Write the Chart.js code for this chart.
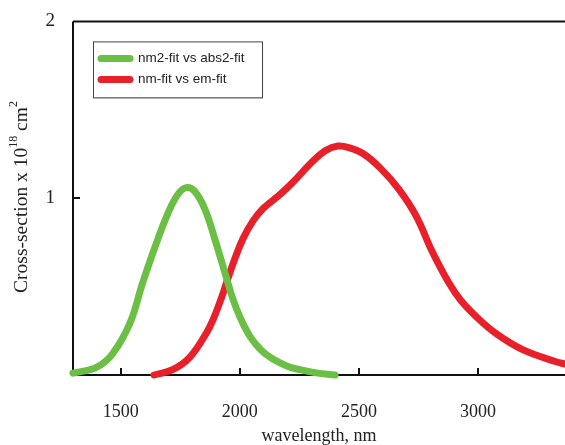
<!DOCTYPE html>
<html>
<head>
<meta charset="utf-8">
<script src="https://cdn.jsdelivr.net/npm/chart.js@4/dist/chart.umd.min.js"></script>
<style>
  html, body { margin: 0; padding: 0; background: #fff; overflow: hidden; }
  canvas { display: block; }
</style>
</head>
<body>
<canvas id="crossCanvas" width="565" height="445"></canvas>
<script>
// Data
const greenLabel = "nm2-fit vs abs2-fit";
const greenWavelength = [1300, 1400, 1466, 1538, 1592, 1643, 1697, 1739, 1775, 1810, 1853, 1895, 1945, 1971, 2000, 2042, 2090, 2139, 2200, 2252, 2320, 2400];
const greenCross = [0.01, 0.045, 0.12, 0.29, 0.52, 0.72, 0.91, 1.02, 1.06, 1.04, 0.94, 0.77, 0.545, 0.43, 0.33, 0.22, 0.14, 0.09, 0.05, 0.03, 0.012, 0.0];

const redLabel = "nm-fit vs em-fit";
const redWavelength = [1640, 1718, 1790, 1861, 1887, 1924, 1945, 1980, 2013, 2055, 2097, 2168, 2223, 2300, 2360, 2412, 2460, 2520, 2590, 2668, 2740, 2807, 2878, 2929, 3004, 3075, 3185, 3328, 3365];
const redCross = [0.0, 0.03, 0.10, 0.24, 0.31, 0.44, 0.525, 0.66, 0.77, 0.87, 0.94, 1.02, 1.09, 1.20, 1.27, 1.295, 1.285, 1.25, 1.17, 1.05, 0.90, 0.70, 0.52, 0.42, 0.315, 0.235, 0.145, 0.075, 0.062];

const xTickValues = [1500, 2000, 2500, 3000];
const yTickValues = [1, 2];

const serif = '"Liberation Serif", "Times New Roman", serif';
const sans = '"Liberation Sans", Arial, sans-serif';

function toPoints(xs, ys) {
    return xs.map((x, i) => ({ x: x, y: ys[i] }));
}

// Frame and inward tick marks
const framePlugin = {
    id: 'frame',
    beforeDatasetsDraw(chart) {
        const ctx = chart.ctx;
        const a = chart.chartArea;
        const xs = chart.scales.x;
        const ys = chart.scales.y;
        ctx.save();
        ctx.strokeStyle = '#111';
        ctx.lineWidth = 2;
        ctx.beginPath();
        ctx.moveTo(a.left, a.top);
        ctx.lineTo(chart.width, a.top);
        ctx.moveTo(a.left, a.top);
        ctx.lineTo(a.left, a.bottom);
        ctx.lineTo(chart.width, a.bottom);
        for (const v of xTickValues) {
            const px = Math.round(xs.getPixelForValue(v));
            ctx.moveTo(px, a.bottom);
            ctx.lineTo(px, a.bottom - 7);
        }
        const py = Math.round(ys.getPixelForValue(1));
        ctx.moveTo(a.left, py);
        ctx.lineTo(a.left + 7, py);
        ctx.stroke();
        ctx.restore();
    }
};

// Y title with superscripts
const yTitlePlugin = {
    id: 'yTitle',
    afterDraw(chart) {
        const ctx = chart.ctx;
        const parts = [
            { t: 'Cross-section x 10', size: 19.5, dy: 0 },
            { t: '18', size: 12, dy: -8 },
            { t: ' cm', size: 19.5, dy: 0 },
            { t: '2', size: 12, dy: -8 }
        ];
        ctx.save();
        ctx.translate(22, 197);
        ctx.rotate(-Math.PI / 2);
        let total = 0;
        for (const p of parts) {
            ctx.font = p.size + 'px ' + serif;
            p.w = ctx.measureText(p.t).width;
            total += p.w;
        }
        let x = -total / 2;
        ctx.fillStyle = '#222';
        ctx.textBaseline = 'middle';
        for (const p of parts) {
            ctx.font = p.size + 'px ' + serif;
            ctx.fillText(p.t, x, p.dy);
            x += p.w;
        }
        ctx.restore();
    }
};

// Legend box inside the plot
const legendPlugin = {
    id: 'boxLegend',
    afterDatasetsDraw(chart) {
        const ctx = chart.ctx;
        const a = chart.chartArea;
        const left = a.left + 20;
        const top = a.top + 20;
        ctx.save();
        ctx.shadowColor = 'rgba(0,0,0,0.35)';
        ctx.shadowOffsetX = 1;
        ctx.shadowOffsetY = 1;
        ctx.shadowBlur = 1;
        ctx.fillStyle = '#fff';
        ctx.fillRect(left, top, 169, 56);
        ctx.shadowColor = 'transparent';
        ctx.strokeStyle = '#444';
        ctx.lineWidth = 1;
        ctx.strokeRect(left + 0.5, top + 0.5, 169, 56);
        chart.data.datasets.forEach((ds, i) => {
            const y = top + 17 + i * 21;
            ctx.strokeStyle = ds.borderColor;
            ctx.lineWidth = 7;
            ctx.lineCap = 'round';
            ctx.beginPath();
            ctx.moveTo(left + 8, y);
            ctx.lineTo(left + 37, y);
            ctx.stroke();
            ctx.fillStyle = '#222';
            ctx.font = '13.5px ' + sans;
            ctx.textBaseline = 'middle';
            ctx.fillText(ds.label, left + 45, y);
        });
        ctx.restore();
    }
};

const crossChart = new Chart(document.getElementById('crossCanvas').getContext('2d'), {
    type: 'line',
    data: {
        datasets: [{
            label: greenLabel,
            data: toPoints(greenWavelength, greenCross),
            borderColor: '#6cbf45',
            borderWidth: 7,
            borderCapStyle: 'round',
            borderJoinStyle: 'round',
            tension: 0.4,
            pointRadius: 0,
            fill: false,
            clip: false
        }, {
            label: redLabel,
            data: toPoints(redWavelength, redCross),
            borderColor: '#e8202a',
            borderWidth: 7,
            borderCapStyle: 'round',
            borderJoinStyle: 'round',
            tension: 0.4,
            pointRadius: 0,
            fill: false,
            clip: false
        }]
    },
    options: {
        responsive: false,
        animation: false,
        devicePixelRatio: 1,
        layout: { padding: { top: 17, left: 0, right: 0, bottom: 0 } },
        plugins: {
            legend: { display: false },
            tooltip: { enabled: false }
        },
        scales: {
            x: {
                type: 'linear',
                min: 1300,
                max: 3365,
                grid: { display: false },
                border: { display: false },
                afterBuildTicks: (scale) => { scale.ticks = xTickValues.map(v => ({ value: v })); },
                afterFit: (scale) => { scale.height = 70; },
                ticks: {
                    font: { family: serif, size: 18 },
                    color: '#222',
                    padding: 18,
                    maxRotation: 0,
                    callback: (v) => String(v)
                },
                title: {
                    display: true,
                    text: 'wavelength, nm',
                    font: { family: serif, size: 18, lineHeight: 1.0 },
                    color: '#222',
                    padding: { top: 0, bottom: 0 }
                }
            },
            y: {
                type: 'linear',
                min: 0,
                max: 2,
                grid: { display: false },
                border: { display: false },
                afterBuildTicks: (scale) => { scale.ticks = yTickValues.map(v => ({ value: v })); },
                afterFit: (scale) => { scale.width = 73; },
                ticks: {
                    font: { family: serif, size: 19 },
                    color: '#222',
                    padding: 10,
                    callback: (v) => String(v)
                }
            }
        }
    },
    plugins: [framePlugin, legendPlugin, yTitlePlugin]
});
</script>
</body>
</html>
